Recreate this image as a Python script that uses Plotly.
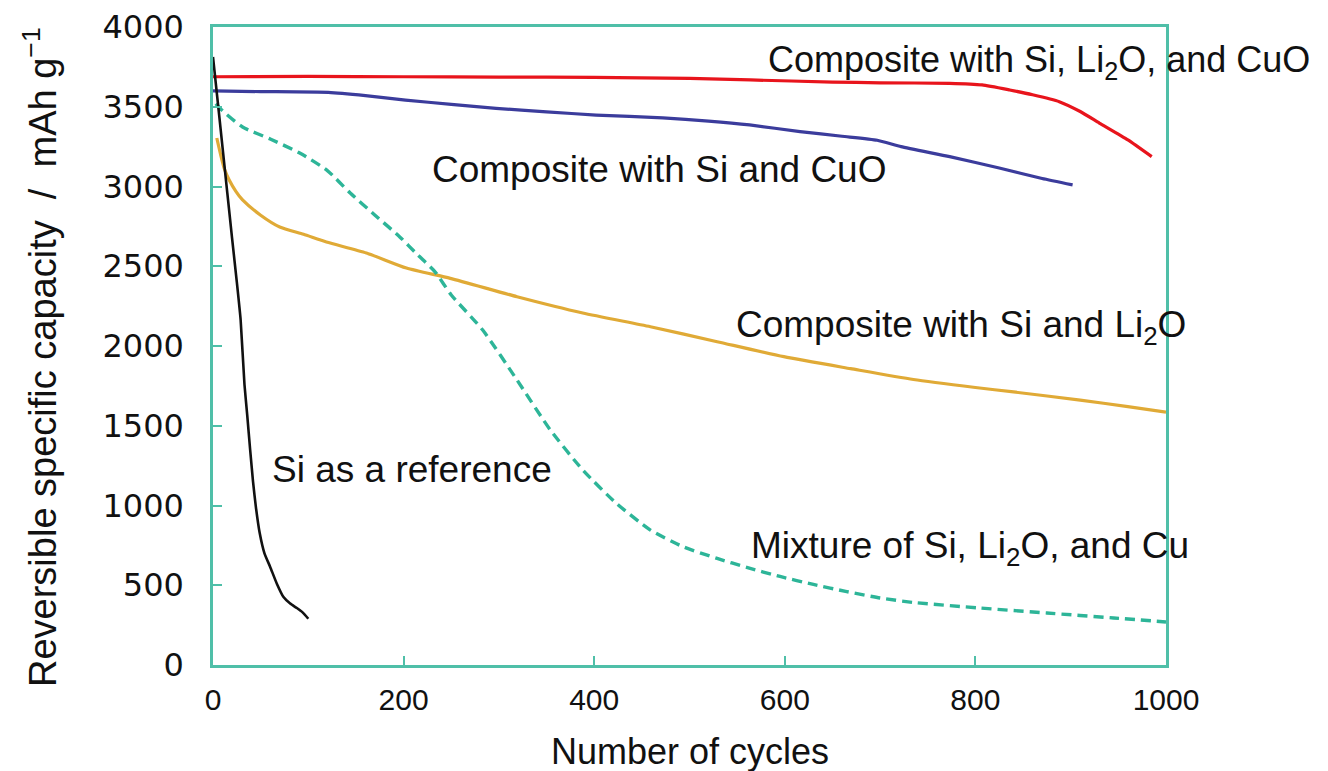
import plotly.graph_objects as go

# ---- data ----
red_x = [0, 100, 200, 300, 400, 500, 564, 650, 700, 773, 807, 836, 860, 888, 910, 930, 960, 985]
red_y = [3688, 3690, 3688, 3686, 3684, 3678, 3668, 3655, 3650, 3647, 3637, 3605, 3575, 3532, 3470, 3398, 3292, 3187]

blue_x = [0, 50, 121, 160, 202, 250, 297, 350, 402, 472, 520, 563, 616, 660, 697, 722, 773, 825, 870, 902]
blue_y = [3599, 3595, 3590, 3570, 3542, 3515, 3490, 3468, 3448, 3430, 3410, 3386, 3344, 3315, 3290, 3250, 3187, 3116, 3050, 3010]

yellow_x = [4, 8, 12, 17, 24, 31, 50, 70, 95, 119, 161, 203, 249, 319, 388, 459, 529, 599, 669, 735, 800, 840, 910, 960, 1000]
yellow_y = [3304, 3200, 3110, 3041, 2970, 2916, 2820, 2746, 2700, 2652, 2583, 2489, 2424, 2309, 2207, 2121, 2027, 1933, 1858, 1790, 1740, 1712, 1661, 1620, 1585]

dash_x = [3, 8, 31, 60, 91, 120, 144, 170, 196, 215, 233, 250, 283, 319, 354, 388, 423, 459, 493, 529, 560, 595, 630, 665, 700, 735, 805, 875, 945, 1000]
dash_y = [3520, 3486, 3373, 3298, 3210, 3100, 2959, 2820, 2684, 2570, 2465, 2320, 2100, 1787, 1473, 1223, 1015, 846, 742, 668, 612, 555, 505, 460, 420, 392, 357, 326, 295, 270]

black_x = [0, 5, 10, 15, 20, 25, 29, 33, 36, 39, 42, 45, 49, 54, 60, 67, 74, 81, 88, 94, 100]
black_y = [3812, 3530, 3245, 2960, 2677, 2400, 2163, 1760, 1560, 1348, 1150, 990, 827, 700, 615, 510, 426, 385, 357, 330, 290]

x_ticks = [0, 200, 400, 600, 800, 1000]
y_ticks = [0, 500, 1000, 1500, 2000, 2500, 3000, 3500, 4000]

labels = [
    ("Composite with Si, Li<sub>2</sub>O, and CuO", 580, 3781, 36),
    ("Composite with Si and CuO", 228, 3104, 37),
    ("Composite with Si and Li<sub>2</sub>O", 547, 2119, 37),
    ("Si as a reference", 60, 1223, 37),
    ("Mixture of Si, Li<sub>2</sub>O, and Cu", 562, 734, 37),
]

# ---- figure ----
FRAME = "#4fbfa8"
fig = go.Figure()

fig.add_trace(go.Scatter(x=yellow_x, y=yellow_y, mode="lines",
                         line=dict(color="#e0aa36", width=3.2, shape="spline", smoothing=0.6),
                         name="Si + Li2O"))
fig.add_trace(go.Scatter(x=dash_x, y=dash_y, mode="lines",
                         line=dict(color="#2db598", width=3.4, dash="10px,6px",
                                   shape="spline", smoothing=0.6),
                         name="Mixture"))
fig.add_trace(go.Scatter(x=blue_x, y=blue_y, mode="lines",
                         line=dict(color="#3b3c9c", width=3.2, shape="spline", smoothing=0.5),
                         name="Si + CuO"))
fig.add_trace(go.Scatter(x=red_x, y=red_y, mode="lines",
                         line=dict(color="#e8141c", width=3.2, shape="spline", smoothing=0.5),
                         name="Si + Li2O + CuO"))
fig.add_trace(go.Scatter(x=black_x, y=black_y, mode="lines",
                         line=dict(color="#111111", width=2.6, shape="spline", smoothing=0.5),
                         name="Si"))

for text, lx, ly, fs in labels:
    fig.add_annotation(x=lx, y=ly, xref="x", yref="y", text=text, showarrow=False,
                       xanchor="left", yanchor="middle",
                       font=dict(family="Liberation Sans", size=fs, color="#111111"))

# axis titles as annotations for exact placement
fig.add_annotation(xref="paper", yref="paper", x=0.5005, y=-0.136,
                   text="Number of cycles", showarrow=False,
                   xanchor="center", yanchor="middle",
                   font=dict(family="Liberation Sans", size=36, color="#111111"))
fig.add_annotation(xref="paper", yref="paper", x=-0.1815, y=0.4828,
                   text="Reversible specific capacity  /  mAh g<sup>\u22121</sup>",
                   textangle=-90, showarrow=False,
                   xanchor="center", yanchor="middle",
                   font=dict(family="Liberation Sans", size=38, color="#111111"))

fig.update_layout(
    width=1320, height=763,
    margin=dict(l=205, r=162, t=19, b=106, autoexpand=False),
    paper_bgcolor="white", plot_bgcolor="white",
    showlegend=False,
    xaxis=dict(range=[0, 1000], tickvals=x_ticks, ticktext=[str(v) for v in x_ticks],
               showgrid=False, zeroline=False, automargin=False,
               showline=True, linecolor=FRAME, linewidth=2.5, mirror=True,
               ticks="inside", ticklen=9, tickwidth=2, tickcolor=FRAME,
               ticklabelstandoff=6,
               tickfont=dict(family="Liberation Sans", size=30, color="#111111")),
    yaxis=dict(range=[0, 4000], tickvals=y_ticks, ticktext=[str(v) for v in y_ticks],
               showgrid=False, zeroline=False, automargin=False,
               showline=True, linecolor=FRAME, linewidth=2.5, mirror=True,
               ticks="inside", ticklen=9, tickwidth=2, tickcolor=FRAME,
               ticklabelstandoff=20,
               tickfont=dict(family="DejaVu Sans", size=32, color="#111111")),
)

fig.write_html("out.html")
